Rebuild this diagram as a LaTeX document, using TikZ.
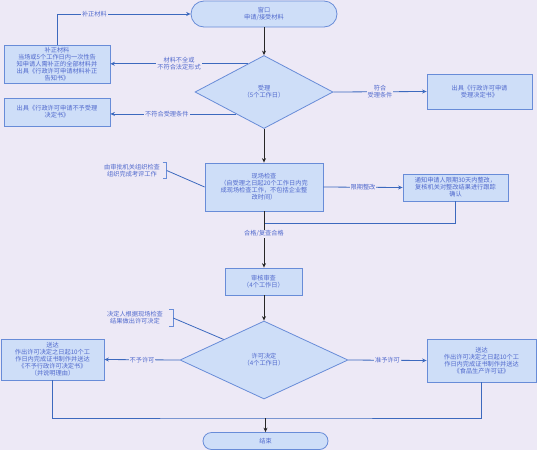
\documentclass[tikz,border=0pt]{standalone}
\usepackage{fontspec}
\setmainfont{Noto Sans CJK SC}
\usetikzlibrary{shapes.geometric,arrows.meta}
\definecolor{bgc}{RGB}{237,233,246}
\definecolor{fil}{RGB}{206,222,248}
\definecolor{bdr}{RGB}{104,140,216}
\definecolor{txt}{RGB}{80,105,205}
\definecolor{lnc}{RGB}{60,105,190}
\newcommand{\fs}{\fontsize{6.2}{7}\selectfont}
\tikzset{
  box/.style={draw=bdr, fill=fil, line width=0.8pt, text=txt, align=center, font=\fs, inner sep=1pt},
  dia/.style={box, diamond, inner sep=0pt},
  term/.style={box, rounded corners=8pt},
  lbl/.style={fill=bgc, text=txt, font=\fs, align=center, inner sep=1pt},
  ann/.style={text=txt, font=\fs, align=center, inner sep=1pt},
  main/.style={draw=black!85, line width=0.8pt, -{Stealth[length=4.5pt,width=4pt]}},
  side/.style={draw=lnc, line width=0.8pt, -{Stealth[length=4.5pt,width=4pt]}},
  plain/.style={draw=lnc, line width=0.8pt},
}
\begin{document}
\begin{tikzpicture}[x=1pt,y=-1pt]
\fill[bgc] (0,0) rectangle (537,450);
\useasboundingbox (0,0) rectangle (537,450);

\node[term, minimum width=146pt, minimum height=26pt, rounded corners=13pt] (start) at (264,14) {窗口\\申请/接受材料};
\node[dia, minimum width=138pt, minimum height=73pt, aspect=1.9] (d1) at (264,92) {受理\\（5个工作日）};
\node[box, minimum width=106pt, minimum height=38pt] (b1) at (57,64) {补正材料\\当场或5个工作日内一次性告\\知申请人需补正的全部材料并\\出具《行政许可申请材料补正\\告知书》};
\node[box, minimum width=106pt, minimum height=28pt] (b2) at (57,112) {出具《行政许可申请不予受理\\决定书》};
\node[box, minimum width=105pt, minimum height=35pt] (r1) at (479.5,91.5) {出具《行政许可申请\\受理决定书》};
\node[box, minimum width=118pt, minimum height=48pt] (insp) at (264,187) {现场检查\\（自受理之日起20个工作日内完\\成现场检查工作，不包括企业整\\改时间）};
\node[ann, minimum width=69pt, minimum height=15pt] (a1) at (132,170.5) {由审批机关组织检查\\组织完成考评工作};
\node[box, minimum width=105pt, minimum height=27pt] (rect) at (455.5,187.5) {通知申请人限期30天内整改，\\复核机关对整改结果进行跟踪\\确认};
\node[box, minimum width=77pt, minimum height=27pt] (rev) at (263.5,281.5) {审核审查\\（4个工作日）};
\node[dia, minimum width=168pt, minimum height=78pt, aspect=2.15] (d2) at (264,360) {许可决定\\（4个工作日）};
\node[ann, minimum width=76pt, minimum height=16pt] (a2) at (135,318) {决定人根据现场检查\\结果做出许可决定};
\node[box, minimum width=103pt, minimum height=41pt] (L) at (52.5,359.5) {送达\\作出许可决定之日起10个工\\作日内完成证书制作并送达\\《不予行政许可决定书》\\（并说明理由）};
\node[box, minimum width=109pt, minimum height=43pt] (R) at (481.5,360.5) {送达\\作出许可决定之日起10个工\\作日内完成证书制作并送达\\《食品生产许可证》};
\node[term, minimum width=125pt, minimum height=17pt, rounded corners=8.5pt] (end) at (265.5,441) {结束};

% brackets of annotations
\draw[bdr, line width=0.8pt] ([xshift=-4pt]a1.north east) -- (a1.north east) -- (a1.south east) -- ([xshift=-4pt]a1.south east);
\draw[bdr, line width=0.8pt] ([xshift=-4pt]a2.north east) -- (a2.north east) -- (a2.south east) -- ([xshift=-4pt]a2.south east);

\coordinate (j1) at (264,223);
\coordinate (j2) at (265.5,418);

\draw[main] (start) -- (d1);
\draw[side] (b1.north) |- node[lbl, pos=0.64] {补正材料} (start.west);
\draw[side] (d1.120) -- node[lbl, pos=0.5] {材料不全或\\不符合法定形式} (d1.120 -| b1.east);
\draw[side] (d1.218) -- node[lbl, pos=0.55] {不符合受理条件} (d1.218 -| b2.east);
\draw[side] (d1.east) -- node[lbl] {符合\\受理条件} (r1.west);
\draw[main] (d1.south) -- (insp.north);
\draw[plain] (a1.east) -- (insp.west);
\draw[side] (insp.east) -- node[lbl] {限期整改} (rect.west);
\draw[plain] (rect.south) |- (j1);
\draw[main] (insp.south) -- node[lbl, pos=0.4] {合格/复查合格} (rev.north -| insp.south);
\draw[main] (rev.south -| d2.north) -- (d2.north);
\draw[plain] (a2.east) -- (d2.153);
\draw[side] (d2.west) -- node[lbl] {不予许可} (L.east);
\draw[side] (d2.east) -- node[lbl] {准予许可} (R.west);
\draw[plain] (L.south) |- (j2) -| (R.south);
\draw[main] (j2) -- (end.north);
\end{tikzpicture}
\end{document}
